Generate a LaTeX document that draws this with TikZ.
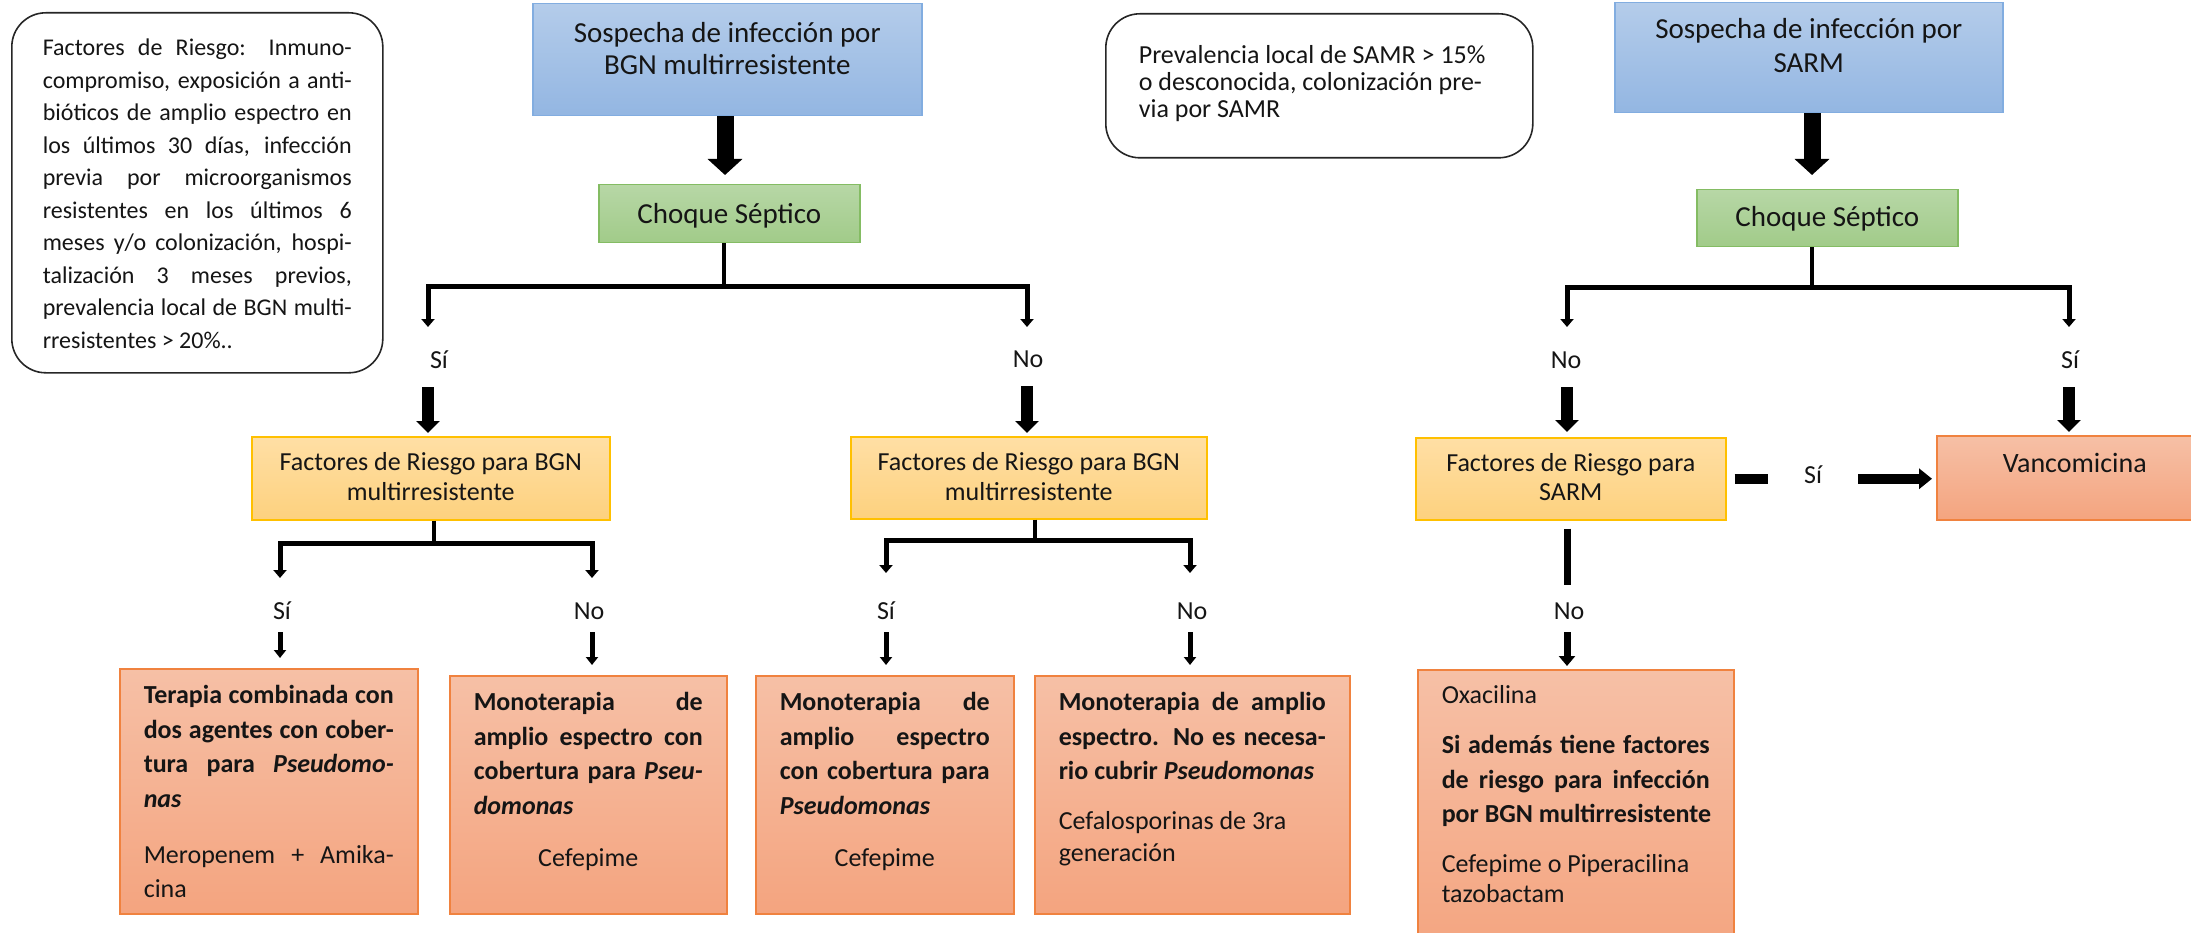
\documentclass[tikz,border=0pt]{standalone}
\usepackage{fontspec}
\setmainfont{Carlito}
\usetikzlibrary{arrows.meta}
\definecolor{bluetop}{HTML}{B4CCEA}
\definecolor{bluebot}{HTML}{93B6E2}
\definecolor{blueline}{HTML}{82ADE0}
\definecolor{greentop}{HTML}{B7D7A6}
\definecolor{greenbot}{HTML}{A1CB89}
\definecolor{greenline}{HTML}{84BC63}
\definecolor{yeltop}{HTML}{FFDFA5}
\definecolor{yelbot}{HTML}{FDD17E}
\definecolor{yelline}{HTML}{FFC000}
\definecolor{ortop}{HTML}{F6C0A6}
\definecolor{orbot}{HTML}{F4A47F}
\definecolor{orline}{HTML}{F0823F}
\definecolor{txt}{HTML}{151515}
\newcommand{\jline}[1]{\makebox[\linewidth][s]{#1}\par}
\newcommand{\nline}[1]{\makebox[\linewidth][l]{#1}\par}
\newcommand{\cenline}[1]{\makebox[\linewidth][c]{#1}\par}
\newcommand{\tb}[6]{\parbox[b][#2][t]{#1}{\fontsize{#4}{#5}\selectfont\vspace*{\dimexpr#3-#5\relax}\hbox{}#6}}
\tikzset{
  box/.style={anchor=north west, inner sep=0pt, line width=1.5pt, text=txt},
  bluebox/.style={box, draw=blueline, top color=bluetop, bottom color=bluebot},
  greenbox/.style={box, draw=greenline, top color=greentop, bottom color=greenbot},
  yelbox/.style={box, draw=yelline, top color=yeltop, bottom color=yelbot},
  orbox/.style={box, draw=orline, top color=ortop, bottom color=orbot},
  roundbox/.style={box, draw=black!85, line width=1.6pt, rounded corners=34pt, fill=white},
  lab/.style={anchor=base, inner sep=0pt, font=\fontsize{26}{30}\selectfont, text=txt},
  bigarr/.style={line width=17pt, -{Triangle[width=34pt,length=16pt]}},
  midarr/.style={line width=12pt, -{Triangle[width=23pt,length=12pt]}},
  stemline/.style={line width=4pt},
  brline/.style={line width=5pt, {Triangle[width=13pt,length=8pt]}-{Triangle[width=13pt,length=8pt]}},
  smarr/.style={line width=5pt, -{Triangle[width=12pt,length=8pt]}},
  sidearr/.style={line width=10pt, -{Triangle[width=20pt,length=13pt]}},
  sideline/.style={line width=10pt},
  dline/.style={line width=7pt},
  darr/.style={line width=7pt, -{Triangle[width=16pt,length=10pt]}}
}
\begin{document}
\begin{tikzpicture}[x=1pt,y=-1pt]
\useasboundingbox (0,0) rectangle (2191,933);

% ---------- boxes ----------
\node[roundbox, inner xsep=31pt] (risk1) at (11,12) {\tb{309pt}{360pt}{43pt}{24pt}{32.5pt}{%
\jline{Factores de Riesgo: Inmuno-}
\jline{compromiso, exposición a anti-}
\jline{bióticos de amplio espectro en}
\jline{los últimos 30 días, infección}
\jline{previa por microorganismos}
\jline{resistentes en los últimos 6}
\jline{meses y/o colonización, hospi-}
\jline{talización 3 meses previos,}
\jline{prevalencia local de BGN multi-}
\nline{rresistentes > 20\%..}}};

\node[bluebox] (blue1) at (532,3) {\tb{389pt}{112pt}{39pt}{29pt}{32pt}{%
\cenline{Sospecha de infección por}\cenline{BGN multirresistente}}};
\node[greenbox] (green1) at (598,184) {\tb{261pt}{58pt}{39pt}{29pt}{32pt}{\cenline{Choque Séptico}}};

\node[roundbox, inner xsep=33pt] (risk2) at (1105,13) {\tb{361pt}{144pt}{50pt}{26pt}{27pt}{%
\nline{Prevalencia local de SAMR > 15\%}
\nline{o desconocida, colonización pre-}
\nline{via por SAMR}}};

\node[bluebox] (blue2) at (1614,2) {\tb{388pt}{110pt}{36pt}{29pt}{34pt}{%
\cenline{Sospecha de infección por}\cenline{SARM}}};
\node[greenbox] (green2) at (1696,189) {\tb{261pt}{57pt}{37pt}{29pt}{32pt}{\cenline{Choque Séptico}}};

\node[yelbox] (yel1) at (251,436) {\tb{358pt}{83pt}{34pt}{26pt}{30pt}{%
\cenline{Factores de Riesgo para BGN}\cenline{multirresistente}}};
\node[yelbox] (yel2) at (850,436) {\tb{356pt}{82pt}{34pt}{26pt}{30pt}{%
\cenline{Factores de Riesgo para BGN}\cenline{multirresistente}}};
\node[yelbox] (yel3) at (1415,437) {\tb{310pt}{82pt}{34pt}{26pt}{29pt}{%
\cenline{Factores de Riesgo para}\cenline{SARM}}};
\node[orbox] (vanc) at (1936,435) {\tb{276pt}{84pt}{37pt}{28pt}{32pt}{\cenline{Vancomicina}}};

\node[orbox, inner xsep=24pt] (o1) at (119,668) {\tb{250pt}{245pt}{35pt}{26pt}{34.5pt}{%
\bfseries
\jline{Terapia combinada con}
\jline{dos agentes con cober-}
\jline{tura para \textit{Pseudomo-}}
\nline{\textit{nas}}
\vspace{21.5pt}\mdseries
\jline{Meropenem + Amika-}
\nline{cina}}};

\node[orbox, inner xsep=24pt] (o2) at (449,675) {\tb{229pt}{238pt}{35pt}{26pt}{34.5pt}{%
\bfseries
\jline{Monoterapia de}
\jline{amplio espectro con}
\jline{cobertura para \textit{Pseu-}}
\nline{\textit{domonas}}
\vspace{17.5pt}\mdseries
\cenline{Cefepime}}};

\node[orbox, inner xsep=24pt] (o3) at (755,675) {\tb{210pt}{238pt}{35pt}{26pt}{34.5pt}{%
\bfseries
\jline{Monoterapia de}
\jline{amplio espectro}
\jline{con cobertura para}
\nline{\textit{Pseudomonas}}
\vspace{17.5pt}\mdseries
\cenline{Cefepime}}};

\node[orbox, inner xsep=24pt] (o4) at (1034,675) {\tb{267pt}{238pt}{35pt}{26pt}{34.5pt}{%
\bfseries
\jline{Monoterapia de amplio}
\jline{espectro. No es necesa-}
\nline{rio cubrir \textit{Pseudomonas}}
\mdseries\fontsize{26pt}{32pt}\selectfont
\vspace{18pt}
\nline{Cefalosporinas de 3ra}
\nline{generación}}};

\node[orbox, inner xsep=24pt] (o5) at (1417,669) {\tb{268pt}{290pt}{34pt}{26pt}{34.5pt}{%
\nline{Oxacilina}
\vspace{15.5pt}\bfseries
\jline{Si además tiene factores}
\jline{de riesgo para infección}
\nline{por BGN multirresistente}
\mdseries\fontsize{26pt}{30pt}\selectfont
\vspace{20pt}
\nline{Cefepime o Piperacilina}
\nline{tazobactam}}};

% ---------- labels ----------
\node[lab] (l1) at (439,368) {Sí};
\node[lab] (l2) at (1028,367) {No};
\node[lab] (l3) at (282,619) {Sí};
\node[lab] (l4) at (589,619) {No};
\node[lab] (l5) at (886,619) {Sí};
\node[lab] (l6) at (1192,619) {No};
\node[lab] (l7) at (1566,368) {No};
\node[lab] (l8) at (2070,368) {Sí};
\node[lab] (l9) at (1813,483) {Sí};
\node[lab] (l10) at (1569,619) {No};

% ---------- coordinates ----------
\coordinate (a1) at (725,0);
\coordinate (b1) at (724,286);
\coordinate (t1l) at (428,327);
\coordinate (t1r) at (1027,327);
\coordinate (b2) at (434,543);
\coordinate (t2l) at (280,578);
\coordinate (t2r) at (592,578);
\coordinate (b3) at (1035,540);
\coordinate (t3l) at (886,573);
\coordinate (t3r) at (1190,573);
\coordinate (b4) at (1812,287);
\coordinate (t4l) at (1567,327);
\coordinate (t4r) at (2069,327);

% ---------- connectors: BGN ----------
\draw[bigarr, shorten >=9pt] (blue1.south -| a1) -- (green1.north -| a1);
\draw[stemline] (green1.south -| b1) -- (b1);
\draw[brline] (t1l) |- (b1) -| (t1r);
\draw[midarr, shorten <=19pt, shorten >=3pt] (l1.south -| t1l) -- (yel1.north -| t1l);
\draw[midarr, shorten <=19pt, shorten >=3pt] (l2.south -| t1r) -- (yel2.north -| t1r);

\draw[stemline] (yel1.south -| b2) -- (b2);
\draw[brline] (t2l) |- (b2) -| (t2r);
\draw[smarr, shorten <=13pt, shorten >=10pt] (l3.south -| t2l) -- (o1.north -| t2l);
\draw[smarr, shorten <=13pt, shorten >=10pt] (l4.south -| t2r) -- (o2.north -| t2r);

\draw[stemline] (yel2.south -| b3) -- (b3);
\draw[brline] (t3l) |- (b3) -| (t3r);
\draw[smarr, shorten <=13pt, shorten >=10pt] (l5.south -| t3l) -- (o3.north -| t3l);
\draw[smarr, shorten <=13pt, shorten >=10pt] (l6.south -| t3r) -- (o4.north -| t3r);

% ---------- connectors: SARM ----------
\draw[bigarr, shorten >=14pt] (blue2.south -| b4) -- (green2.north -| b4);
\draw[stemline] (green2.south -| b4) -- (b4);
\draw[brline] (t4l) |- (b4) -| (t4r);
\draw[midarr, shorten <=19pt, shorten >=5pt] (l7.south -| t4l) -- (yel3.north -| t4l);
\draw[midarr, shorten <=19pt, shorten >=3pt] (l8.south -| t4r) -- (vanc.north -| t4r);

\draw[sideline, shorten <=8pt, shorten >=36pt] (yel3.east) -- (l9.west |- yel3.east);
\draw[sidearr, shorten <=36pt, shorten >=4pt] (l9.east |- yel3.east) -- (vanc.west |- yel3.east);

\draw[dline, shorten <=8pt, shorten >=17pt] (yel3.south -| t4l) -- (l10.north -| t4l);
\draw[darr, shorten <=13pt, shorten >=3pt] (l10.south -| t4l) -- (o5.north -| t4l);
\end{tikzpicture}
\end{document}
